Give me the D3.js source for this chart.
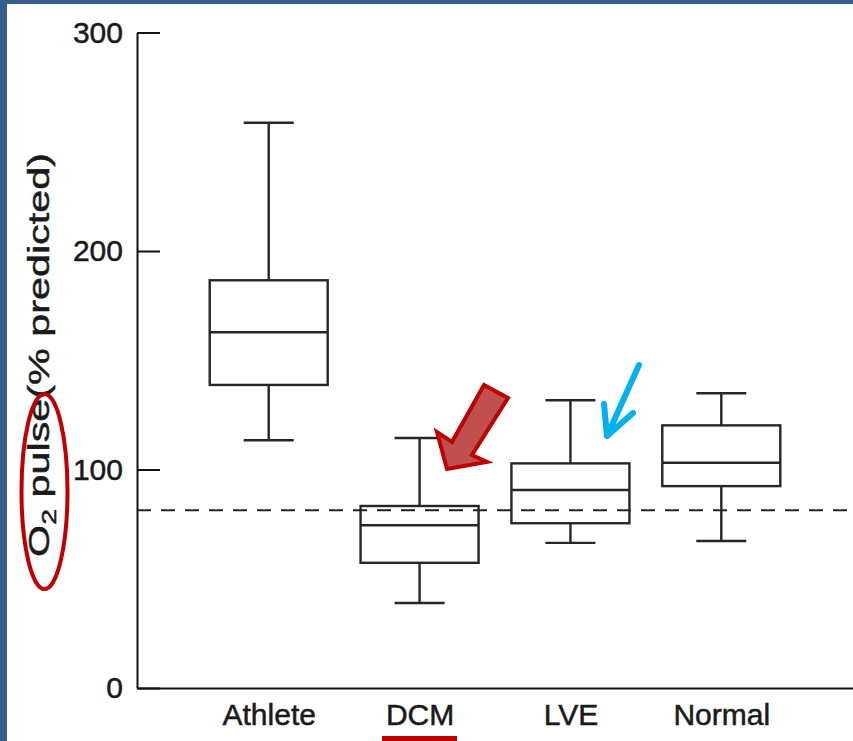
<!DOCTYPE html>
<html>
<head>
<meta charset="utf-8">
<script src="https://cdn.jsdelivr.net/npm/d3@7"></script>
<style>
  body { margin: 0; background: #fff; }
  text { font-family: "Liberation Sans", Arial, sans-serif; fill: #1a1a1a; stroke: #1a1a1a; stroke-width: 0.5px; }
</style>
</head>
<body>
<svg id="chart" width="853" height="741"></svg>
<script>
// group names and box-plot values
var categories = ["Athlete", "DCM", "LVE", "Normal"];
var whiskerLow  = [113.4, 38.9, 66.4, 67.3];
var q1          = [138.7, 57.3, 75.4, 92.4];
var median      = [162.8, 74.5, 90.6, 103.1];
var q3          = [186.6, 83.3, 102.8, 120.2];
var whiskerHigh = [258.7, 114.4, 131.7, 134.9];
var refLine = 81.3;
var yTicks = [0, 100, 200, 300];

var svg = d3.select("#chart");

// slide frame (blue strip on left and top)
svg.append("rect").attr("width", 853).attr("height", 741).attr("fill", "#345f8e");
svg.append("rect").attr("x", 7).attr("y", 4).attr("width", 846).attr("height", 737).attr("fill", "#fff");

var x = d3.scalePoint()
    .domain(categories)
    .range([137, 853])
    .padding(0.873);

var y = d3.scaleLinear()
    .domain([0, 300])
    .range([688, 32.5]);

var boxW = 118, capW = 50;
var ink = "#262626";

// y axis, ticks point inward
var yAxis = svg.append("g")
    .attr("transform", "translate(137,0)")
    .call(d3.axisLeft(y).tickValues(yTicks).tickSizeInner(-23).tickSizeOuter(0).tickPadding(14));
yAxis.select(".domain").attr("stroke", "#111").attr("stroke-width", 2);
yAxis.selectAll(".tick line").attr("stroke", "#111").attr("stroke-width", 2);
yAxis.selectAll(".tick text").style("font-size", "30px").attr("fill", "#1a1a1a");

// x axis with category labels
var xAxis = svg.append("g")
    .attr("transform", "translate(0,688)")
    .call(d3.axisBottom(x).tickSize(0).tickPadding(16));
xAxis.select(".domain").attr("stroke", "#111").attr("stroke-width", 2);
xAxis.selectAll(".tick text").style("font-size", "30px").attr("fill", "#1a1a1a");

// dashed reference line
svg.append("line")
    .attr("x1", 137).attr("x2", 853)
    .attr("y1", y(refLine)).attr("y2", y(refLine))
    .attr("stroke", "#222").attr("stroke-width", 2)
    .attr("stroke-dasharray", "14,10");

// boxes
var boxes = svg.selectAll(".box")
    .data(categories)
    .enter().append("g")
    .attr("class", "box");

boxes.each(function(c, i) {
    var g = d3.select(this), cx = x(c);
    g.append("line").attr("x1", cx).attr("x2", cx)
        .attr("y1", y(whiskerHigh[i])).attr("y2", y(q3[i]));
    g.append("line").attr("x1", cx).attr("x2", cx)
        .attr("y1", y(q1[i])).attr("y2", y(whiskerLow[i]));
    g.append("line").attr("x1", cx - capW / 2).attr("x2", cx + capW / 2)
        .attr("y1", y(whiskerHigh[i])).attr("y2", y(whiskerHigh[i]));
    g.append("line").attr("x1", cx - capW / 2).attr("x2", cx + capW / 2)
        .attr("y1", y(whiskerLow[i])).attr("y2", y(whiskerLow[i]));
    g.append("rect").attr("x", cx - boxW / 2).attr("width", boxW)
        .attr("y", y(q3[i])).attr("height", y(q1[i]) - y(q3[i]))
        .attr("fill", "none");
    g.append("line").attr("x1", cx - boxW / 2).attr("x2", cx + boxW / 2)
        .attr("y1", y(median[i])).attr("y2", y(median[i]));
});
boxes.selectAll("line, rect").attr("stroke", ink).attr("stroke-width", 2.4);

// y axis title, rotated
var title = svg.append("text")
    .attr("text-anchor", "middle")
    .style("font-size", "29px");
title.append("tspan").text("O");
title.append("tspan").text("2").style("font-size", "20px").attr("dy", 7);
title.append("tspan").text(" pulse(% predicted)").attr("dy", -7);
var tw = title.node().getComputedTextLength();
title.attr("transform", "translate(49,355) rotate(-90) scale(" + (404 / tw) + ",1)");

// annotations
svg.append("ellipse")
    .attr("cx", 44.5).attr("cy", 491.5).attr("rx", 23).attr("ry", 97.5)
    .attr("fill", "none").attr("stroke", "#c00000").attr("stroke-width", 4);

svg.append("path")
    .attr("d", "M484,385 L508,398 L472,455 L487,462 L447,469 L437,432 L452,442 Z")
    .attr("fill", "#c0504d").attr("stroke", "#c00000").attr("stroke-width", 4)
    .attr("stroke-linejoin", "miter");

svg.append("path")
    .attr("d", "M639,365 L607,436 M604,404 L607,436 L633,413")
    .attr("fill", "none").attr("stroke", "#00b0f0").attr("stroke-width", 6)
    .attr("stroke-linecap", "round").attr("stroke-linejoin", "round");

svg.append("rect")
    .attr("x", 382).attr("y", 736).attr("width", 75).attr("height", 5)
    .attr("fill", "#c00000");
</script>
</body>
</html>
